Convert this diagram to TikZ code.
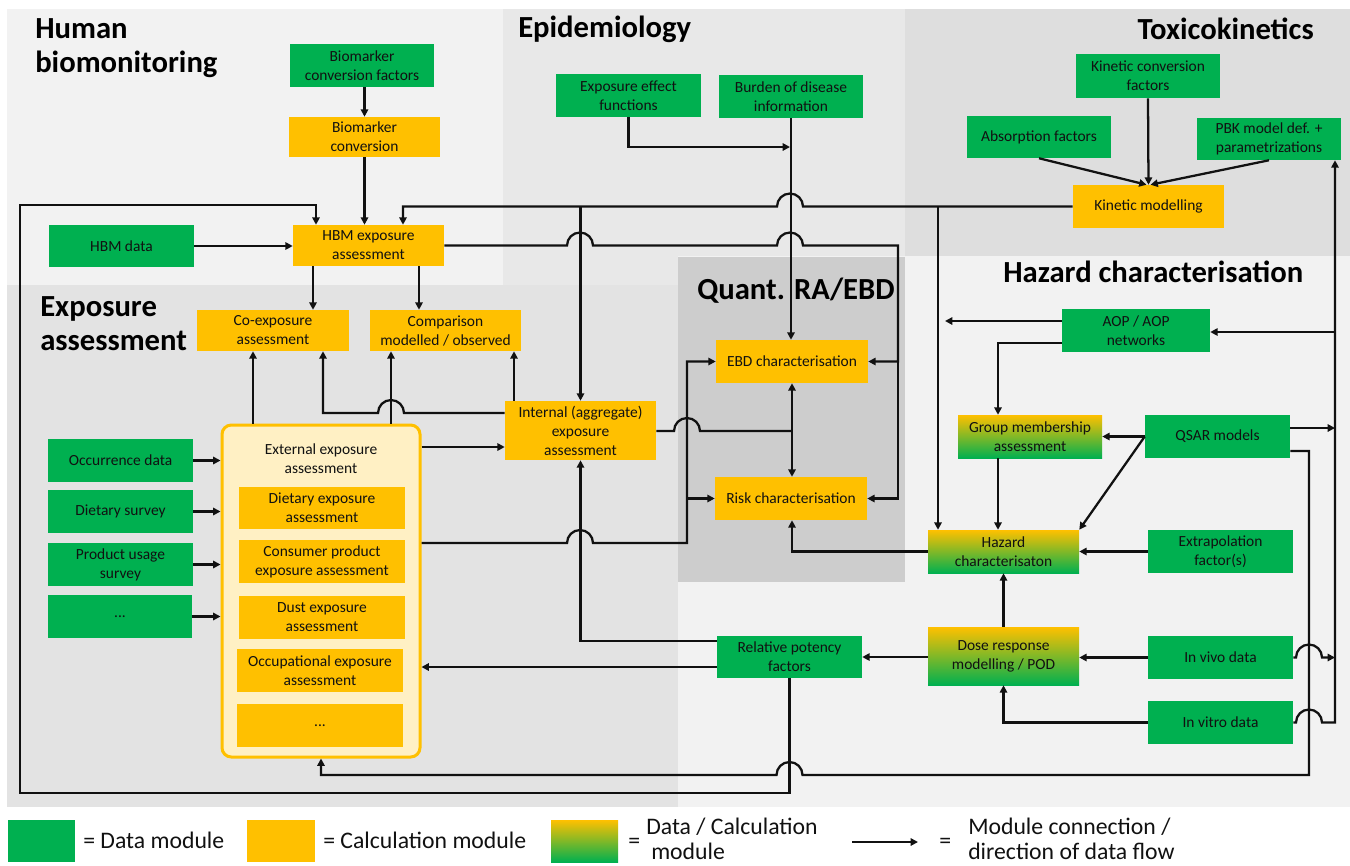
\documentclass[tikz,border=0pt]{standalone}
\usepackage{fontspec}
\setmainfont{Carlito}
\usetikzlibrary{arrows.meta,calc}
\definecolor{dgreen}{HTML}{00B050}
\definecolor{dorange}{HTML}{FFC000}
\definecolor{innerfill}{HTML}{FFF0C4}
\definecolor{bgHBM}{HTML}{F2F2F2}
\definecolor{bgEpi}{HTML}{E8E8E8}
\definecolor{bgTox}{HTML}{DEDEDE}
\definecolor{bgExp}{HTML}{E3E3E3}
\definecolor{bgRA}{HTML}{CDCDCD}
\definecolor{bgHaz}{HTML}{F2F2F2}
\definecolor{ink}{HTML}{111111}

\tikzset{
  module/.style={inner sep=0pt, align=center, font=\fontsize{11.6}{14.25}\selectfont, text=ink},
  datamod/.style={module, fill=dgreen},
  calcmod/.style={module, fill=dorange},
  mixmod/.style={module, top color=dorange, bottom color=dgreen},
  container/.style={module, draw=dorange, line width=2.25pt, fill=innerfill, rounded corners=7pt},
  conn/.style={line width=1.7pt, draw=ink},
  arr/.style={conn, -{Triangle[length=5.5pt,width=5.5pt]}},
  region title/.style={font=\bfseries\fontsize{23}{25}\selectfont, inner sep=0pt, text=black},
  legend text/.style={font=\fontsize{17.8}{20}\selectfont, inner sep=0pt, text=ink},
}
% box from its corners: name, x1, y1, x2, y2, style, text
\newcommand\modbox[7]{\node[#6, minimum width={0.75pt*(#4-#2)}, minimum height={0.75pt*(#5-#3)}] (#1) at ({(#2+#4)/2},{(#3+#5)/2}) {#7};}
% line hops over a crossing vertical line (rightwards / leftwards)
\newcommand\hopR[2]{-- ({#1-13},#2) arc[start angle=180,end angle=0,radius=9.75pt]}
\newcommand\hopL[2]{-- ({#1+13},#2) arc[start angle=0,end angle=180,radius=9.75pt]}

\begin{document}
\begin{tikzpicture}[x=0.75pt,y=-0.75pt]
\useasboundingbox (0,0) rectangle (1350,865);
\fill[white] (0,0) rectangle (1350,865);

% regions
\fill[bgHBM] (7,9) rectangle (503,285);
\fill[bgEpi] (503,9) rectangle (905,285);
\fill[bgTox] (905,9) rectangle (1350,256);
\fill[bgExp] (7,285) rectangle (678,807);
\fill[bgHaz] (678,256) rectangle (1350,807);
\fill[bgRA] (678,257) rectangle (905,582);

% region titles
\node[region title, anchor=base west] (tHBMa) at (35,38) {Human};
\node[region title, anchor=base west] (tHBMb) at (35,72) {biomonitoring};
\node[region title, anchor=base west] (tEpi) at (518,37) {Epidemiology};
\node[region title, anchor=base east] (tTox) at (1314,39) {Toxicokinetics};
\node[region title, anchor=base west] (tHaz) at (1003,282) {Hazard characterisation};
\node[region title, anchor=base west] (tRA) at (697,299) {Quant. RA/EBD};
\node[region title, anchor=base west] (tExpa) at (40,316) {Exposure};
\node[region title, anchor=base west] (tExpb) at (40,350) {assessment};

% human biomonitoring
\modbox{bcf}{290}{44}{434}{87}{datamod}{Biomarker\\conversion factors}
\modbox{bc}{289}{117}{440}{157}{calcmod}{Biomarker\\conversion}
\modbox{hbm}{293}{225}{444}{266}{calcmod}{HBM exposure\\assessment}
\modbox{hbmd}{49}{225}{194}{267}{datamod}{HBM data}

% epidemiology
\modbox{eef}{556}{74}{701}{117}{datamod}{Exposure effect\\functions}
\modbox{bod}{719}{75}{863}{118}{datamod}{Burden of disease\\information}

% toxicokinetics
\modbox{kcf}{1076}{54}{1220}{98}{datamod}{Kinetic conversion\\factors}
\modbox{abs}{967}{116}{1111}{158}{datamod}{Absorption factors}
\modbox{pbk}{1197}{118}{1341}{160}{datamod}{PBK model def. +\\parametrizations}
\modbox{km}{1073}{185}{1224}{228}{calcmod}{Kinetic modelling}

% exposure assessment
\modbox{coex}{197}{310}{349}{351}{calcmod}{Co-exposure\\assessment}
\modbox{comp}{370}{310}{521}{351}{calcmod}{Comparison\\modelled / observed}
\modbox{int}{505}{401}{656}{460}{calcmod}{Internal (aggregate)\\exposure\\assessment}
\modbox{ext}{222}{425}{420}{757}{container}{}
\node[module] (exttitle) at (321,459) {External exposure\\assessment};
\modbox{diet}{239}{487}{405}{529}{calcmod}{Dietary exposure\\assessment}
\modbox{cons}{239}{540}{405}{583}{calcmod}{Consumer product\\exposure assessment}
\modbox{dust}{239}{596}{405}{639}{calcmod}{Dust exposure\\assessment}
\modbox{occ}{237}{649}{403}{692}{calcmod}{Occupational exposure\\assessment}
\modbox{etc}{237}{704}{403}{747}{calcmod}{...}
\modbox{occd}{48}{439}{193}{482}{datamod}{Occurrence data}
\modbox{dsv}{48}{490}{193}{533}{datamod}{Dietary survey}
\modbox{pus}{48}{543}{193}{586}{datamod}{Product usage\\survey}
\modbox{dots}{48}{595}{192}{638}{datamod}{...}

% quantitative risk assessment / EBD
\modbox{ebd}{716}{340}{868}{383}{calcmod}{EBD characterisation}
\modbox{risk}{715}{477}{867}{520}{calcmod}{Risk characterisation}

% hazard characterisation
\modbox{aop}{1062}{309}{1210}{352}{datamod}{AOP / AOP\\networks}
\modbox{grp}{958}{415}{1102}{458}{mixmod}{Group membership\\assessment}
\modbox{qsar}{1145}{415}{1290}{458}{datamod}{QSAR models}
\modbox{haz}{928}{530}{1079}{573}{mixmod}{Hazard\\characterisaton}
\modbox{extr}{1148}{530}{1293}{573}{datamod}{Extrapolation\\factor(s)}
\modbox{dose}{928}{627}{1079}{685}{mixmod}{Dose response\\modelling / POD}
\modbox{vivo}{1148}{636}{1293}{679}{datamod}{In vivo data}
\modbox{vitro}{1148}{701}{1293}{744}{datamod}{In vitro data}
\modbox{rpf}{717}{636}{862}{678}{datamod}{Relative potency\\factors}

% ---- connections ----
% human biomonitoring
\draw[arr] (bc.north |- bcf.south) -- (bc.north);
\draw[arr] (bc.south) -- (bc.south |- hbm.north);
\draw[arr] (hbmd.east) -- (hbm.west |- hbmd.east);
\draw[arr] (hbm.south -| 313,0) -- (coex.north -| 313,0);
\draw[arr] (hbm.south -| 419,0) -- (comp.north -| 419,0);
\draw[arr] (hbm.east) \hopR{580}{245.5} \hopR{790}{245.5} -- (898,245.5) -- (898,361.5) -- (ebd.east);
\draw[arr] (898,361.5) -- (898,498.5) -- (risk.east);

% relative potency factors loop back to HBM
\draw[arr] (rpf.south) -- (789.5,793) -- (20,793) -- (20,205) -- (316,205) -- (hbm.north -| 316,0);

% kinetic modelling outputs
\draw[arr] (km.west) \hopL{790}{206.5} -- (403,206.5) -- (hbm.north -| 403,0);
\draw[arr] (938,206.5) -- (haz.north -| 938,0);
\draw[arr] (580.5,206.5) -- (int.north);

% epidemiology
\draw[arr] (eef.south) -- (628.5,147) -- (790,147);
\draw[arr] (bod.south) -- (bod.south |- ebd.north);

% exposure assessment
\draw[arr] (int.west |- 0,413) \hopL{391}{413} -- (323,413) -- (coex.south -| 323,0);
\draw[arr] (int.north -| 514,0) -- (comp.south -| 514,0);
\draw[arr] (ext.north -| 253,0) -- (coex.south -| 253,0);
\draw[arr] (ext.north -| 391,0) -- (comp.south -| 391,0);
\draw[arr] (ext.east |- 0,447) -- (int.west |- 0,447);
\draw[arr] (occd.east) -- (ext.west |- occd.east);
\draw[arr] (dsv.east) -- (ext.west |- dsv.east);
\draw[arr] (pus.east) -- (ext.west |- pus.east);
\draw[arr] (dots.east) -- (ext.west |- dots.east);
\draw[arr] (ext.east |- 0,543) \hopR{580}{543} -- (687,543) -- (687,361.5) -- (ebd.west);
\draw[arr] (687,498.5) -- (risk.west);
\draw[conn] (int.east |- 0,431) \hopR{687}{431} -- (792,431);
\draw[arr] (792,431) -- (ebd.south -| 792,0);
\draw[arr] (792,431) -- (risk.north -| 792,0);
\draw[arr] (rpf.west |- 0,641) -- (580.5,641) -- (int.south);
\draw[arr] (rpf.west |- 0,667) -- (ext.east |- 0,667);

% hazard characterisation
\draw[arr] (dose.west |- rpf.east) -- (rpf.east);
\draw[arr] (haz.west) -- (792,551.5) -- (risk.south -| 792,0);
\draw[arr] (dose.north) -- (haz.south);
\draw[arr] (vivo.west) -- (dose.east |- vivo.west);
\draw[arr] (vitro.west) -- (1003.5,722.5) -- (dose.south);
\draw[arr] (extr.west) -- (haz.east);
\draw[arr] (grp.south -| 998,0) -- (haz.north -| 998,0);
\draw[arr] (aop.west |- 0,343) -- (998,343) -- (grp.north -| 998,0);
\draw[arr] (aop.west |- 0,321) -- (945,321);
\draw[arr] (qsar.west) -- (grp.east);
\draw[arr] (qsar.west) -- (haz.north east);
\draw[arr] (qsar.east |- 0,428) -- (1335,428);
\draw[arr] (qsar.east |- 0,451) -- (1309,451) -- (1309,775) \hopL{789.5}{775} -- (321,775) -- (ext.south -| 321,0);
\draw[arr] (vivo.east) \hopR{1309}{657.5} -- (1335,657.5);
\draw[arr] (vitro.east) \hopR{1309}{722.5} -- (1335,722.5) -- (pbk.south -| 1335,0);
\draw[arr] (1335,332) -- (aop.east |- 0,332);

% toxicokinetics
\draw[arr] (abs.south) -- ($(km.north)+(-2,0)$);
\draw[arr] (kcf.south) -- (km.north);
\draw[arr] (pbk.south) -- ($(km.north)+(2,0)$);

% ---- legend ----
\modbox{lgdata}{8}{820}{75}{862}{datamod}{}
\modbox{lgcalc}{247}{820}{315}{862}{calcmod}{}
\modbox{lgmix}{551}{820}{618}{862}{mixmod}{}
\node[legend text, anchor=base west] (lgdatat) at (83,848) {= Data module};
\node[legend text, anchor=base west] (lgcalct) at (323,848) {= Calculation module};
\node[legend text, anchor=base west] (lgmixeq) at (628,848) {=};
\node[legend text, anchor=base west] (lgmixa) at (646,834) {Data / Calculation};
\node[legend text, anchor=base west] (lgmixb) at (651,859) {module};
\coordinate (lgA) at (852,842);
\coordinate (lgB) at (918,842);
\draw[arr] (lgA) -- (lgB);
\node[legend text, anchor=base west] (lgarreq) at (939,848) {=};
\node[legend text, anchor=base west] (lgarra) at (968,834) {Module connection /};
\node[legend text, anchor=base west] (lgarrb) at (968,859) {direction of data flow};
\end{tikzpicture}
\end{document}
